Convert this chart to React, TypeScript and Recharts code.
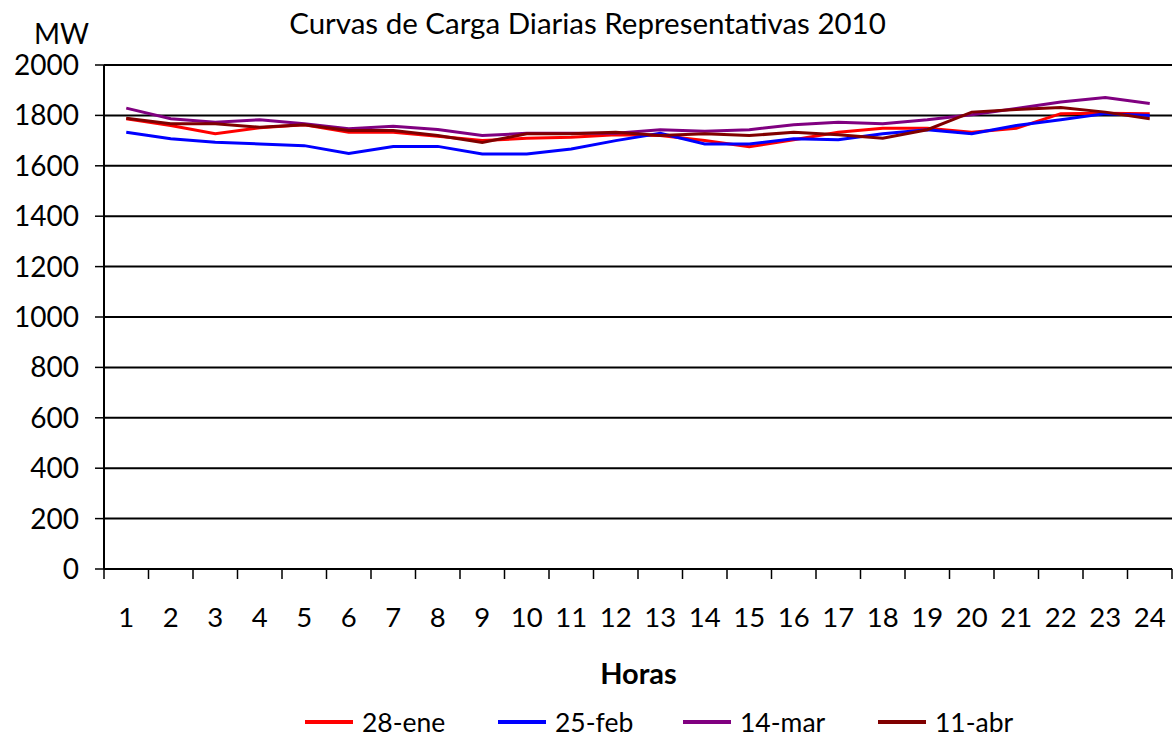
import { LineChart, Line, XAxis, YAxis, CartesianGrid } from 'recharts';

const horas = [1, 2, 3, 4, 5, 6, 7, 8, 9, 10, 11, 12, 13, 14, 15, 16, 17, 18, 19, 20, 21, 22, 23, 24];

const ene28 = [1787, 1760, 1727, 1751, 1763, 1733, 1733, 1717, 1700, 1709, 1713, 1723, 1720, 1700, 1676, 1703, 1733, 1749, 1749, 1733, 1749, 1807, 1809, 1807];
const feb25 = [1733, 1707, 1693, 1687, 1680, 1649, 1677, 1677, 1647, 1647, 1667, 1700, 1729, 1687, 1687, 1707, 1703, 1727, 1743, 1727, 1760, 1783, 1807, 1800];
const mar14 = [1829, 1787, 1773, 1783, 1767, 1747, 1757, 1744, 1720, 1729, 1729, 1729, 1743, 1737, 1743, 1763, 1773, 1767, 1783, 1803, 1827, 1853, 1871, 1847];
const abr11 = [1789, 1767, 1767, 1753, 1763, 1740, 1740, 1720, 1693, 1727, 1727, 1733, 1720, 1727, 1720, 1733, 1723, 1709, 1743, 1813, 1823, 1831, 1813, 1787];

const yTicks = [0, 200, 400, 600, 800, 1000, 1200, 1400, 1600, 1800, 2000];

const series = [
  { key: 'ene', name: '28-ene', color: '#ff0000' },
  { key: 'feb', name: '25-feb', color: '#0000ff' },
  { key: 'mar', name: '14-mar', color: '#800080' },
  { key: 'abr', name: '11-abr', color: '#800000' },
];

const data = horas.map((h, i) => ({
  hora: h,
  ene: ene28[i],
  feb: feb25[i],
  mar: mar14[i],
  abr: abr11[i],
}));

// tick marks sit between the categories, like Excel
const bounds = [...horas.map((h) => h - 0.5), 24.5];

const FONT = 'Lato, "Open Sans", sans-serif';
const HALF_STEP = 22.23;
const legendWidths = [193, 185, 195, 120];

const XTick = ({ x, y, payload }: any) => {
  if (payload.value > 24) return null;
  return (
    <text x={x + HALF_STEP} y={y} dy="0.71em" textAnchor="middle" fontSize={27.5} fontFamily={FONT} fill="#000">
      {payload.value + 0.5}
    </text>
  );
};

export default function App() {
  return (
    <div style={{ position: 'absolute', left: 0, top: 0, width: 1175, height: 739, background: '#fff', fontFamily: FONT, overflow: 'hidden' }}>
      <div style={{ position: 'absolute', left: 0, width: 1175, top: 5, textAlign: 'center', fontSize: 29.5 }}>
        Curvas de Carga Diarias Representativas 2010
      </div>
      <div style={{ position: 'absolute', left: 34, top: 16, fontSize: 28 }}>MW</div>
      <LineChart width={1175} height={739} data={data} margin={{ top: 65, right: 3, left: 0, bottom: 0 }}>
        <CartesianGrid vertical={false} stroke="#000" strokeWidth={2} />
        <XAxis
          dataKey="hora"
          type="number"
          domain={[0.5, 24.5]}
          ticks={bounds}
          interval={0}
          height={170}
          tick={<XTick />}
          tickSize={10}
          tickMargin={28}
          axisLine={{ stroke: '#000', strokeWidth: 2 }}
          tickLine={{ stroke: '#000', strokeWidth: 1.5 }}
        />
        <YAxis
          domain={[0, 2000]}
          ticks={yTicks}
          interval={0}
          width={104}
          tickSize={9}
          tickMargin={16}
          tick={{ fontSize: 28, fill: '#000', fontFamily: FONT }}
          axisLine={{ stroke: '#000', strokeWidth: 2 }}
          tickLine={{ stroke: '#000', strokeWidth: 1.5 }}
        />
        {series.map((s) => (
          <Line
            key={s.key}
            type="linear"
            dataKey={s.key}
            name={s.name}
            stroke={s.color}
            strokeWidth={3}
            dot={false}
            isAnimationActive={false}
          />
        ))}
      </LineChart>
      <div style={{ position: 'absolute', left: 51, width: 1175, top: 655, textAlign: 'center', fontSize: 29, fontWeight: 'bold' }}>
        Horas
      </div>
      <div style={{ position: 'absolute', left: 305, top: 708, width: 720, display: 'flex', fontSize: 26.5, whiteSpace: 'nowrap', lineHeight: '28px' }}>
        {series.map((s, i) => (
          <div key={s.key} style={{ display: 'flex', alignItems: 'center', width: legendWidths[i], flexShrink: 0 }}>
            <div style={{ width: 48, height: 4, background: s.color, marginRight: 9, flexShrink: 0 }} />
            <span>{s.name}</span>
          </div>
        ))}
      </div>
    </div>
  );
}
